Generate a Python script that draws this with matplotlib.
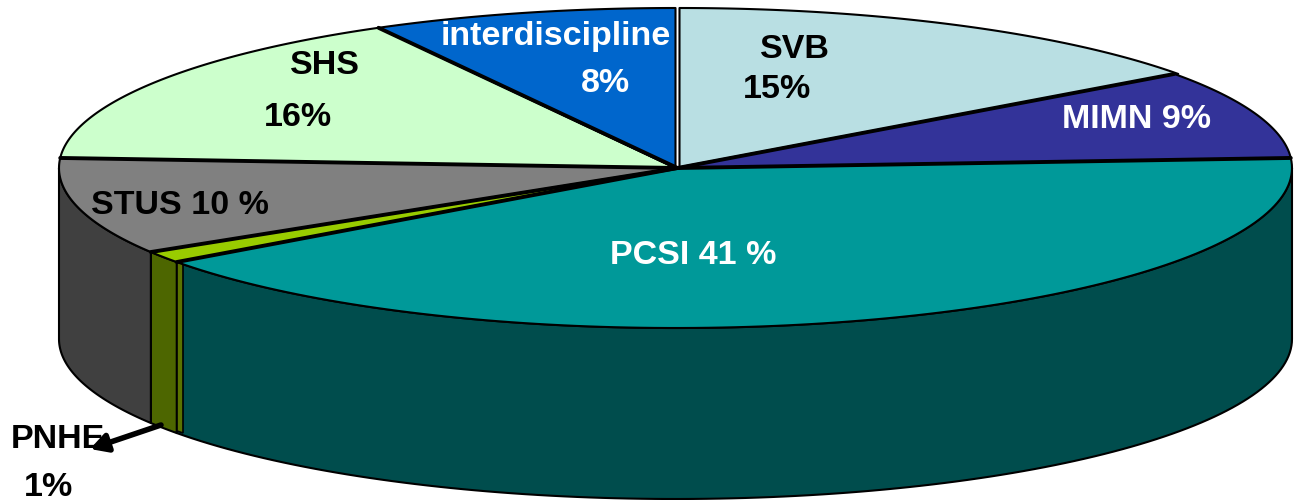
import numpy as np
import matplotlib
matplotlib.use("Agg")
import matplotlib.pyplot as plt
from matplotlib.patches import Polygon

# Data (clockwise from the top of the pie)
categories = ["SVB", "MIMN", "PCSI", "PNHE", "STUS", "SHS", "interdiscipline"]
values = [15, 9, 41, 1.2, 9.8, 16, 8]
top_colors = ["#B9DFE3", "#333399", "#009999", "#99CC00", "#808080", "#CCFFCC", "#0066CC"]
side_colors = ["#5D7072", "#1A1A4D", "#004D4D", "#4D6600", "#404040", "#668066", "#003366"]

CX, CY, RX, RY, DEPTH = 675.5, 168, 616.5, 160, 171
LW = 1.5

plt.rcParams["font.family"] = ["Liberation Sans", "DejaVu Sans"]
fig = plt.figure(figsize=(12.95, 5.0), dpi=100)
ax = fig.add_axes([0, 0, 1, 1])
ax.set_xlim(0, 1295)
ax.set_ylim(500, 0)
ax.axis("off")


def rim(a0, a1, n=120):
    t = np.radians(np.linspace(a0, a1, n))
    return CX + RX * np.sin(t), CY - RY * np.cos(t)


edges = np.concatenate([[0], np.cumsum(values)]) * 360.0 / sum(values)

# Side walls, only where the rim faces the viewer
for i, c in enumerate(categories):
    a0, a1 = max(edges[i], 90), min(edges[i + 1], 270)
    if a1 <= a0:
        continue
    x, y = rim(a0, a1)
    px = np.concatenate([x, x[::-1]])
    py = np.concatenate([y, y[::-1] + DEPTH])
    ax.add_patch(Polygon(np.column_stack([px, py]), closed=True, fc=side_colors[i],
                         ec="black", lw=LW, joinstyle="round", zorder=2))

# Top faces
for i, c in enumerate(categories):
    x, y = rim(edges[i], edges[i + 1])
    shift = 4 if c == "SVB" else 0
    px = np.concatenate([[CX], x]) + shift
    py = np.concatenate([[CY], y])
    ax.add_patch(Polygon(np.column_stack([px, py]), closed=True, fc=top_colors[i],
                         ec="black", lw=LW, joinstyle="round", zorder=3))

# Heavier dividing lines between the slices
for a in edges[1:-1]:
    x, y = rim(a, a, 1)
    ax.plot([CX + 2, x[0]], [CY, y[0]], color="black", lw=2.8, zorder=4,
            solid_capstyle="round")

# Thin sliver next to the PNHE wall
ax.add_patch(Polygon([[177, 262], [183, 264], [183, 433], [177, 431]], closed=True,
                     fc="#5A7300", ec="black", lw=1.2, zorder=2.5))

labels = [
    ("interdiscipline", 556, 36, "white"), ("8%", 605, 83, "white"),
    ("SVB", 795, 49, "black"), ("15%", 777, 89, "black"),
    ("MIMN 9%", 1137, 120, "white"), ("PCSI 41 %", 693, 256, "white"),
    ("STUS 10 %", 180, 205, "black"), ("SHS", 325, 65, "black"),
    ("16%", 298, 117, "black"), ("PNHE", 58, 439, "black"), ("1%", 49, 487, "black"),
]
for s, x, y, col in labels:
    ax.text(x, y, s, color=col, fontsize=24.5, fontweight="bold",
            ha="center", va="center", zorder=5)

ax.annotate("", xy=(90, 449), xytext=(161, 425), zorder=6,
            arrowprops=dict(arrowstyle="-|>,head_length=1.0,head_width=0.55", color="black",
                            lw=4.0, shrinkA=0, shrinkB=0))

fig.savefig("out.png", dpi=100, facecolor="white")
